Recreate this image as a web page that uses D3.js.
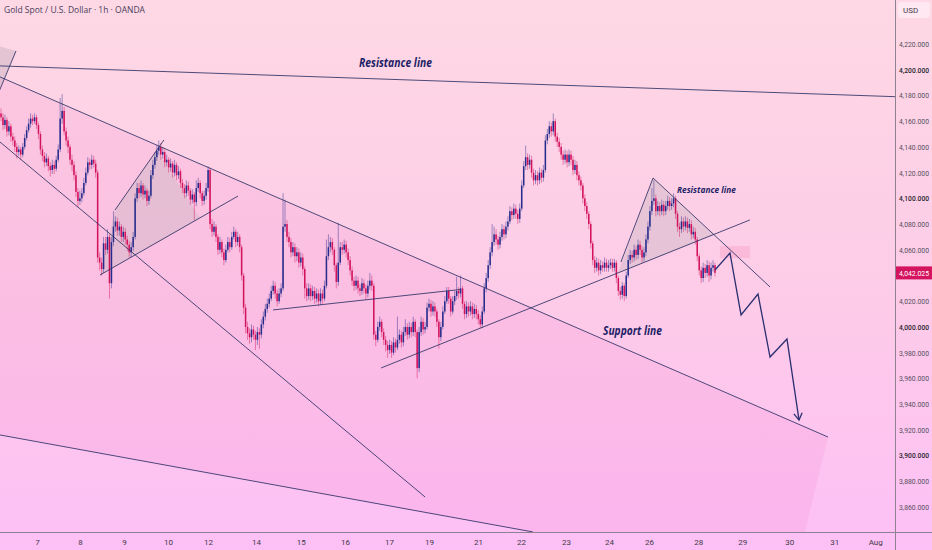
<!DOCTYPE html>
<html>
<head>
<meta charset="utf-8">
<script src="https://cdnjs.cloudflare.com/ajax/libs/d3/7.8.5/d3.min.js"></script>
<style>
html,body{margin:0;padding:0;background:#fdd6e6;overflow:hidden;}
svg{display:block;font-family:Roboto,"Noto Sans",sans-serif;}
</style>
</head>
<body>
<div id="chart"></div>
<script>
// XAUUSD 1h candles, open = previous close
var firstOpen = 4166;
var closes = [
4163,4157,4161,4152,4156,4148,4145,4140,4136,4138,
4134,4140,4147,4153,4158,4162,4160,4163,4157,4150,
4138,4133,4128,4131,4125,4122,4126,4123,4130,4138,
4162,4168,4152,4145,4140,4130,4126,4118,4105,4098,
4100,4104,4112,4120,4128,4126,4130,4127,4120,4054,
4050,4045,4065,4060,4070,4034,4066,4078,4082,4075,
4078,4070,4074,4068,4064,4058,4062,4070,4100,4108,
4104,4110,4103,4106,4098,4102,4118,4126,4132,4137,
4140,4134,4136,4128,4130,4124,4127,4120,4126,4118,
4121,4112,4108,4104,4110,4106,4099,4103,4097,4108,
4112,4104,4098,4102,4108,4122,4080,4074,4078,4070,
4060,4066,4058,4052,4060,4066,4062,4070,4074,4066,
4070,4062,4040,4015,4000,3995,3992,3998,3994,3990,
3996,3994,4002,4008,4014,4018,4022,4028,4032,4026,
4020,4026,4030,4078,4080,4070,4066,4058,4062,4055,
4058,4050,4054,4045,4030,4024,4030,4024,4028,4022,
4026,4020,4026,4022,4032,4055,4062,4066,4060,4048,
4035,4050,4062,4060,4064,4058,4052,4044,4036,4032,
4036,4030,4028,4034,4030,4026,4032,4036,4032,3994,
3990,4000,4004,3996,3990,3986,3982,3986,3980,3988,
3984,3990,3994,3988,3996,4000,3994,4000,3996,4004,
3996,3968,3996,4004,3998,4000,4015,4018,4012,4016,
4012,4004,3992,4000,4012,4020,4028,4022,4012,4020,
4024,4028,4026,4030,4018,4010,4016,4012,4016,4010,
4014,4010,4006,4002,4012,4030,4038,4048,4058,4066,
4072,4068,4064,4070,4076,4072,4078,4082,4090,4087,
4092,4088,4084,4092,4110,4125,4132,4126,4130,4120,
4114,4118,4114,4120,4116,4122,4145,4150,4156,4152,
4160,4148,4144,4140,4134,4130,4134,4128,4134,4130,
4122,4126,4118,4114,4110,4100,4094,4088,4080,4065,
4052,4046,4050,4044,4048,4046,4050,4046,4048,4050,
4046,4050,4038,4028,4025,4032,4024,4040,4052,4056,
4054,4060,4056,4064,4060,4054,4058,4068,4078,4090,
4098,4100,4090,4094,4090,4095,4090,4094,4098,4094,
4096,4100,4088,4078,4076,4082,4078,4082,4077,4080,
4072,4074,4068,4055,4044,4038,4046,4042,4048,4040,
4046,4048,4042.025
];
var highs = [
4170,4166,4165,4163,4160,4158,4151,4148,4143,4141,
4140,4143,4150,4156,4162,4166,4165,4166,4165,4159,
4152,4141,4136,4135,4133,4128,4130,4129,4133,4142,
4178,4181,4171,4155,4148,4142,4134,4129,4121,4108,
4106,4108,4116,4124,4132,4131,4134,4133,4130,4122,
4058,4054,4070,4070,4076,4072,4070,4090,4086,4085,
4082,4080,4078,4077,4071,4067,4066,4074,4104,4112,
4112,4114,4112,4110,4108,4106,4122,4130,4136,4141,
4145,4143,4140,4138,4134,4132,4131,4129,4130,4128,
4125,4123,4115,4111,4114,4113,4108,4107,4105,4114,
4116,4114,4106,4106,4112,4125,4124,4084,4082,4080,
4072,4070,4068,4061,4064,4070,4069,4074,4078,4076,
4074,4072,4064,4042,4018,4004,3999,4002,4001,3997,
4000,3999,4006,4012,4018,4022,4026,4032,4036,4035,
4029,4030,4034,4104,4099,4083,4074,4069,4066,4065,
4062,4061,4058,4057,4047,4034,4034,4033,4032,4031,
4030,4029,4030,4029,4036,4068,4072,4070,4069,4062,
4050,4081,4066,4066,4068,4067,4061,4055,4047,4039,
4040,4039,4033,4038,4037,4033,4036,4042,4040,4034,
3997,4004,4008,4006,3999,3993,3989,3990,3989,3992,
3991,4008,3998,3997,4000,4006,4003,4004,4003,4008,
4006,3998,4000,4008,4007,4004,4019,4022,4021,4020,
4019,4014,4006,4004,4016,4024,4031,4031,4024,4024,
4028,4039,4031,4040,4032,4020,4020,4019,4020,4019,
4018,4017,4013,4009,4016,4034,4042,4052,4062,4080,
4078,4076,4071,4074,4080,4079,4082,4086,4094,4093,
4096,4095,4091,4096,4114,4129,4141,4135,4134,4133,
4123,4122,4121,4124,4123,4126,4149,4154,4160,4159,
4166,4162,4151,4147,4143,4137,4138,4137,4138,4137,
4133,4130,4129,4121,4117,4112,4103,4097,4090,4082,
4067,4055,4054,4053,4052,4051,4054,4053,4052,4053,
4053,4053,4052,4040,4031,4035,4034,4043,4056,4060,
4059,4064,4063,4068,4067,4063,4062,4072,4082,4094,
4108,4114,4103,4098,4097,4099,4098,4098,4102,4101,
4100,4104,4102,4090,4081,4086,4085,4086,4085,4084,
4083,4078,4077,4070,4057,4047,4050,4049,4052,4051,
4050,4052,4050
];
var lows = [
4160,4153,4154,4148,4149,4144,4141,4136,4131,4133,
4130,4132,4138,4145,4151,4155,4157,4158,4154,4146,
4134,4129,4124,4125,4121,4117,4119,4119,4121,4128,
4136,4158,4149,4141,4135,4126,4121,4114,4101,4093,
4095,4097,4102,4110,4118,4122,4123,4124,4116,4050,
4044,4040,4042,4056,4057,4022,4030,4063,4074,4071,
4071,4066,4066,4064,4059,4054,4054,4059,4068,4097,
4100,4101,4099,4100,4094,4095,4100,4115,4123,4129,
4134,4130,4131,4124,4125,4120,4121,4116,4117,4114,
4115,4108,4104,4100,4101,4102,4095,4096,4083,4094,
4105,4100,4094,4095,4099,4105,4076,4070,4071,4066,
4056,4057,4054,4048,4050,4058,4058,4060,4068,4062,
4063,4058,4036,4010,3995,3990,3987,3988,3990,3982,
3986,3983,3991,3999,4005,4011,4015,4020,4025,4022,
4016,4018,4023,4028,4074,4066,4062,4054,4055,4050,
4051,4046,4047,4040,4022,4020,4021,4020,4021,4018,
4019,4016,4017,4018,4020,4030,4052,4058,4056,4043,
4030,4032,4048,4056,4057,4054,4048,4040,4032,4028,
4029,4026,4024,4025,4026,4021,4023,4029,4028,3990,
3985,3988,3997,3992,3986,3981,3976,3979,3976,3978,
3980,3982,3987,3984,3985,3993,3990,3991,3992,3993,
3992,3960,3965,3993,3994,3995,3998,4012,4008,4009,
4008,4000,3983,3989,3998,4010,4018,4018,4008,4010,
4017,4021,4022,4023,4014,4006,4007,4008,4009,4006,
4007,4006,4002,3999,3999,4010,4027,4035,4045,4055,
4063,4064,4060,4061,4067,4068,4069,4075,4080,4083,
4084,4084,4080,4081,4090,4108,4122,4122,4123,4116,
4110,4111,4110,4111,4112,4113,4120,4142,4147,4148,
4149,4144,4140,4136,4130,4126,4127,4124,4125,4126,
4118,4119,4114,4110,4106,4096,4090,4084,4076,4061,
4048,4042,4043,4040,4041,4043,4043,4043,4043,4045,
4043,4043,4034,4024,4021,4022,4020,4022,4038,4049,
4050,4051,4052,4053,4056,4050,4051,4055,4065,4075,
4087,4095,4086,4087,4086,4087,4086,4087,4091,4090,
4091,4093,4084,4074,4070,4073,4074,4075,4073,4074,
4068,4069,4064,4051,4040,4034,4035,4038,4039,4035,
4037,4043,4039
];

var priceTicks = [3860,3880,3900,3920,3940,3960,3980,4000,4020,4060,4080,4100,4120,4140,4160,4180,4200,4220];
var dayLabels = ["7","8","9","10","12","14","15","16","17","19","21","22","23","24","26","28","29","30","31","Aug"];
var dayBars = [18.3,40.1,62.4,84.7,105,129.3,152,174.4,196.7,217,241.9,263.7,286.5,308.3,328.6,353.5,375.8,399.6,422.5,443.2];
var lastPrice = 4042.025;

// drawings, as [bar, price]
var resistanceLine = [[-1,4203],[454,4179]];
var channelTop = [[-0.5,4194.4],[419.3,3914.4]];
var channelSteep = [[-0.5,4143.8],[215,3867.8]];
var channelBottom = [[-0.5,3916],[269.7,3840.6]];
var channelFill = [[-0.5,4194.4],[419.3,3914.4],[401.8,3803.6],[-0.5,3916]];
var cornerFill = [[-0.5,4218],[7.6,4214.6],[-0.5,4185.8]];
var cornerEdge = [[7.6,4214.6],[-1,4183]];
var flagUpper = [[57.8,4090.9],[82.6,4145.4]];
var flagLower = [[50.2,4040.4],[120.2,4101.8]];
var flagFill = [[50.2,4040.4],[57.8,4090.9],[79.1,4137.6],[100.9,4084.7]];
var rangeTop = [[137.9,4013.2],[232.7,4029.1]];
var supportLine = [[192.7,3968.1],[379.7,4083.2]];
var wedgeLeft = [[314.3,4050.5],[330.6,4115.8]];
var wedgeRight = [[330.6,4115.8],[389.9,4031.1]];
var wedgeFill = [[312.8,4041.9],[330.6,4115.8],[361.5,4071.5]];
var zoneBox = [[364.5,4062.9],[379.7,4053.6]];
var projection = [[362,4044.3],[369.6,4057.5],[375.2,4009.3],[383.8,4025.6],[389.9,3976.6],[398.5,3990.6],[404.6,3927.6]];
var labels = [
  {text:"Resistance line", bar:181.5, price:4202, size:12.5, len:73},
  {text:"Support line", bar:305.2, price:3993.5, size:12.5, len:59},
  {text:"Resistance line", bar:342.7, price:4104.1, size:9.5, len:59}
];

function drawChart(tag) {
  var width = 932, height = 550;
  var plotW = 895, plotH = 532;
  var upColor = "#262c8c", downColor = "#d3125c", ink = "#2e3165";

  var svg = d3.select(tag).append("svg")
      .attr("width", width)
      .attr("height", height);

  var defs = svg.append("defs");
  var bg = defs.append("linearGradient").attr("id","bg")
      .attr("x1",0).attr("y1",0).attr("x2",0).attr("y2",1);
  bg.append("stop").attr("offset","0%").attr("stop-color","#fed8e4");
  bg.append("stop").attr("offset","55%").attr("stop-color","#fdcbe8");
  bg.append("stop").attr("offset","100%").attr("stop-color","#fdc0f6");
  defs.append("clipPath").attr("id","plot")
      .append("rect").attr("width",plotW).attr("height",plotH);

  svg.append("rect").attr("width",width).attr("height",height).attr("fill","url(#bg)");

  var x = d3.scaleLinear().domain([0, 362]).range([1, 715]);
  var y = d3.scaleLinear().domain([3860, 4220]).range([507, 44]);

  var line = d3.line().x(function(d){return x(d[0]);}).y(function(d){return y(d[1]);});

  var plot = svg.append("g").attr("clip-path","url(#plot)");

  // shaded zones
  plot.append("path").attr("d", line(channelFill) + "Z")
      .attr("fill","rgba(238,110,190,0.13)");
  plot.append("path").attr("d", line(cornerFill) + "Z")
      .attr("fill","rgba(190,170,185,0.4)");
  plot.append("path").attr("d", line(flagFill) + "Z")
      .attr("fill","rgba(205,185,195,0.45)");
  plot.append("path").attr("d", line(wedgeFill) + "Z")
      .attr("fill","rgba(205,185,195,0.45)");
  plot.append("rect")
      .attr("x", x(zoneBox[0][0])).attr("y", y(zoneBox[0][1]))
      .attr("width", x(zoneBox[1][0]) - x(zoneBox[0][0]))
      .attr("height", y(zoneBox[1][1]) - y(zoneBox[0][1]))
      .attr("fill","rgba(250,140,185,0.3)");

  // candles
  var bars = closes.map(function(c, i){
    var o = i === 0 ? firstOpen : closes[i-1];
    return {i:i, o:o, c:c, h:Math.max(highs[i], o, c), l:Math.min(lows[i], o, c)};
  });
  var g = plot.selectAll(".bar")
      .data(bars)
      .enter()
      .append("g")
      .attr("class","bar");
  g.append("line")
      .attr("x1", function(d){return x(d.i);})
      .attr("x2", function(d){return x(d.i);})
      .attr("y1", function(d){return y(d.h);})
      .attr("y2", function(d){return y(d.l);})
      .attr("stroke", function(d){return d.c >= d.o ? upColor : downColor;})
      .attr("stroke-opacity", 0.45)
      .attr("stroke-width", 1);
  g.append("rect")
      .attr("x", function(d){return x(d.i) - 0.75;})
      .attr("width", 1.5)
      .attr("y", function(d){return y(Math.max(d.o, d.c));})
      .attr("height", function(d){return Math.max(1, Math.abs(y(d.o) - y(d.c)));})
      .attr("fill", function(d){return d.c >= d.o ? upColor : downColor;});

  // trend lines
  [resistanceLine, channelTop, channelSteep, channelBottom, cornerEdge,
   flagUpper, flagLower, rangeTop, supportLine, wedgeLeft, wedgeRight].forEach(function(seg){
    plot.append("path").attr("d", line(seg))
        .attr("fill","none").attr("stroke", ink)
        .attr("stroke-opacity", 0.85).attr("stroke-width", 1);
  });

  // projected path with arrow
  plot.append("path").attr("d", line(projection))
      .attr("fill","none").attr("stroke","#2b2f70").attr("stroke-width",1.3)
      .attr("stroke-linejoin","miter");
  var p1 = projection[projection.length-2], p2 = projection[projection.length-1];
  var ax = x(p2[0]), ay = y(p2[1]);
  var ang = Math.atan2(ay - y(p1[1]), ax - x(p1[0]));
  var head = [ang + Math.PI - 0.55, ang + Math.PI + 0.55].map(function(a){
    return [ax + 8 * Math.cos(a), ay + 8 * Math.sin(a)];
  });
  plot.append("path")
      .attr("d", "M" + head[0] + "L" + ax + "," + ay + "L" + head[1])
      .attr("fill","none").attr("stroke","#2b2f70").attr("stroke-width",1.3);

  // annotation texts
  labels.forEach(function(t){
    plot.append("text")
        .attr("x", x(t.bar)).attr("y", y(t.price))
        .attr("font-family","'Open Sans','Noto Sans',sans-serif")
        .attr("font-style","italic").attr("font-weight",700)
        .attr("font-size", t.size)
        .attr("textLength", t.len).attr("lengthAdjust","spacingAndGlyphs")
        .attr("fill","#1d1f66")
        .text(t.text);
  });

  // price axis
  var yAxis = svg.append("g")
      .attr("transform","translate(" + (plotW + 4) + ",0)")
      .call(d3.axisRight(y).tickValues(priceTicks).tickFormat(d3.format(",.3f")).tickSize(0).tickPadding(0));
  yAxis.select(".domain").remove();
  yAxis.selectAll("text")
      .attr("font-size", 7.5)
      .attr("font-family","Roboto,sans-serif")
      .attr("textLength", 30).attr("lengthAdjust","spacingAndGlyphs")
      .attr("fill", function(d){return d % 100 === 0 ? "#1f1f2e" : "#55505e";})
      .attr("font-weight", function(d){return d % 100 === 0 ? 500 : 400;});

  // time axis
  var xAxis = svg.append("g")
      .attr("transform","translate(0," + (plotH + 7) + ")")
      .call(d3.axisBottom(x).tickValues(dayBars)
        .tickFormat(function(d, i){return dayLabels[i];}).tickSize(0).tickPadding(0));
  xAxis.select(".domain").remove();
  xAxis.selectAll("text")
      .attr("font-size", 8)
      .attr("font-family","Roboto,sans-serif")
      .attr("fill","#3f3a48");

  // borders
  svg.append("line").attr("x1",0).attr("x2",width).attr("y1",plotH+0.5).attr("y2",plotH+0.5)
      .attr("stroke","#8f8290").attr("stroke-width",1);
  svg.append("line").attr("x1",plotW+0.5).attr("x2",plotW+0.5).attr("y1",0).attr("y2",height)
      .attr("stroke","#8f8290").attr("stroke-width",1);

  // last price tag
  var tag = svg.append("g").attr("transform","translate(" + (plotW + 1) + "," + y(lastPrice) + ")");
  tag.append("rect").attr("x",0).attr("y",-6.5).attr("width",36).attr("height",13)
      .attr("fill","#d4145e");
  tag.append("text").attr("x",3).attr("y",3)
      .attr("font-size",7.5).attr("font-family","Roboto,sans-serif")
      .attr("textLength", 30).attr("lengthAdjust","spacingAndGlyphs")
      .attr("fill","#fff").text(d3.format(",.3f")(lastPrice));

  // currency box
  svg.append("rect").attr("x",plotW+3).attr("y",2).attr("width",32).attr("height",16).attr("rx",3)
      .attr("fill","rgba(255,240,246,0.7)");
  svg.append("text").attr("x",plotW+8).attr("y",13)
      .attr("font-size",8).attr("font-family","Roboto,sans-serif")
      .attr("fill","#3f3a48").text("USD");

  // title
  svg.append("text").attr("x",4).attr("y",13)
      .attr("font-size",8.5).attr("font-family","'Open Sans',sans-serif")
      .attr("fill","#4a3e5c").text("Gold Spot / U.S. Dollar · 1h · OANDA");
}

drawChart("#chart");
</script>
</body>
</html>
